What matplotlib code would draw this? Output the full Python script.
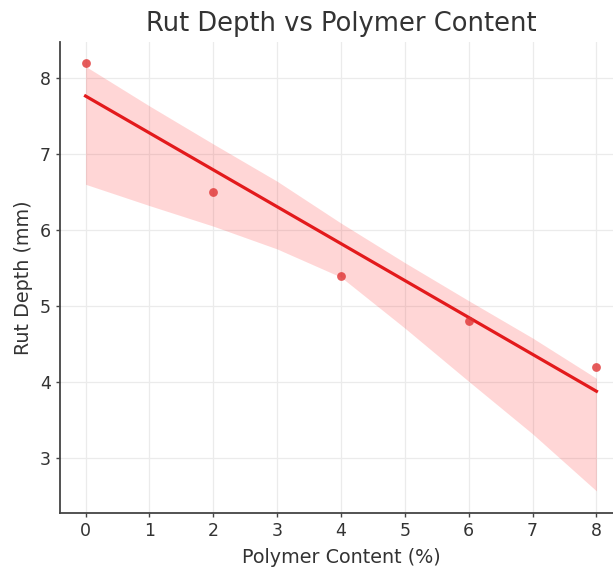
import matplotlib
matplotlib.use("Agg")
import matplotlib.pyplot as plt
import seaborn as sns
import numpy as np
import pandas as pd

# Data
polymer_content = [0, 2, 4, 6, 8]
rut_depth = [8.2, 6.5, 5.4, 4.8, 4.2]

# Confidence band
band_x = [0, 1, 2, 3, 4, 5, 6, 7, 8]
band_upper = [8.15, 7.63, 7.13, 6.64, 6.09, 5.57, 5.07, 4.58, 4.05]
band_lower = [6.60, 6.32, 6.05, 5.75, 5.38, 4.71, 4.01, 3.32, 2.57]

x_ticks = [0, 1, 2, 3, 4, 5, 6, 7, 8]
y_ticks = [3, 4, 5, 6, 7, 8]

df = pd.DataFrame({"Polymer Content (%)": polymer_content, "Rut Depth (mm)": rut_depth})

plt.rcParams['font.family'] = ['DejaVu Sans']
fig = plt.figure(figsize=(6.13, 5.68), dpi=100)
W, H = 613, 568
ax = fig.add_axes([60 / W, (H - 513) / H, (622 - 60) / W, (513 - 42) / H])

line_color = '#e31a1c'
ax.fill_between(band_x, band_lower, band_upper, color='#ff2020', alpha=0.18, linewidth=0, zorder=1)
sns.regplot(data=df, x="Polymer Content (%)", y="Rut Depth (mm)", ax=ax, ci=None,
            scatter_kws={'s': 40, 'color': '#e03232', 'zorder': 3, 'linewidths': 0},
            line_kws={'color': line_color, 'linewidth': 2.3, 'zorder': 2})

ax.set_xlim(-0.4, 8.4)
ax.set_ylim(2.28, 8.47)
ax.set_xticks(x_ticks)
ax.set_yticks(y_ticks)
ax.grid(True, color='#ebebeb', linewidth=0.9, zorder=0)
ax.set_axisbelow(True)
for s in ['top', 'right']:
    ax.spines[s].set_visible(False)
for s in ['left', 'bottom']:
    ax.spines[s].set_color('#444444')
    ax.spines[s].set_linewidth(1.3)
ax.tick_params(axis='both', colors='#444444', labelsize=12.5, length=3, width=1, labelcolor='#333333')
ax.set_xlabel("Polymer Content (%)", fontsize=13.8, color='#333333', labelpad=6)
ax.set_ylabel("Rut Depth (mm)", fontsize=13.8, color='#333333', labelpad=5)
ax.set_title("Rut Depth vs Polymer Content", fontsize=18.5, color='#333333', pad=8)

fig.savefig("out.png", dpi=100)
